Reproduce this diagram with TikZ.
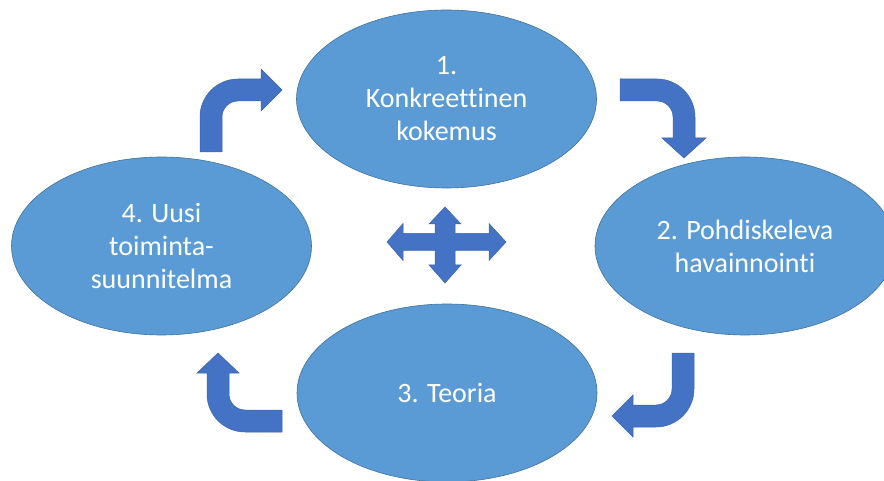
\documentclass[tikz,border=0pt]{standalone}
\usepackage{fontspec}
\setmainfont{Carlito}[Ligatures={NoCommon}]
\usetikzlibrary{shapes.geometric}
\definecolor{ellfill}{HTML}{5B9BD5}
\definecolor{elldraw}{HTML}{41719C}
\definecolor{arrfill}{HTML}{4472C4}
\definecolor{arrdraw}{HTML}{3A64B0}
\tikzset{
  phase/.style={ellipse, fill=ellfill, draw=elldraw, line width=0.6pt,
    minimum width=300pt, minimum height=178pt, inner sep=0pt,
    text=white, align=center, font=\fontsize{28}{33}\selectfont},
  blockarrow/.style={fill=arrfill, draw=arrdraw, line width=0.5pt, line join=miter}
}
\begin{document}
\begin{tikzpicture}[x=1pt,y=-1pt]
\useasboundingbox (0,0) rectangle (884,481);
\fill[white] (0,0) rectangle (884,481);
\node[phase] (e1) at (446.5,99) {1.\\Konkreettinen\\kokemus};
\node[phase] (e2) at (745,246) {2. Pohdiskeleva\\havainnointi};
\node[phase] (e3) at (447,393) {3. Teoria};
\node[phase] (e4) at (161.5,246) {4. Uusi\\toiminta-\\suunnitelma};
% arrow 4 -> 1
\draw[blockarrow] (200,152) -- (200,117) .. controls (200,96) and (217,79) .. (238,79)
  -- (261,79) -- (261,69) -- (282,90) -- (261,111) -- (261,101) -- (238,101)
  .. controls (229.2,101) and (222,108.2) .. (222,117) -- (222,152) -- cycle;
% arrow 1 -> 2
\draw[blockarrow] (620,79) -- (657,79) .. controls (678,79) and (695,96) .. (695,117)
  -- (695,138) -- (706,138) -- (684,158) -- (662,138) -- (673,138) -- (673,117)
  .. controls (673,108.2) and (665.8,101) .. (657,101) -- (620,101) -- cycle;
% arrow 2 -> 3
\draw[blockarrow] (672,353) -- (694,353) -- (694,389) .. controls (694,410) and (677,427) .. (656,427)
  -- (633,427) -- (633,437) -- (612,416) -- (633,395) -- (633,405) -- (656,405)
  .. controls (664.8,405) and (672,397.8) .. (672,389) -- cycle;
% arrow 3 -> 4
\draw[blockarrow] (282,410) -- (282,432) -- (245,432) .. controls (224,432) and (207,415) .. (207,394)
  -- (207,373) -- (197,373) -- (218,353) -- (239,373) -- (229,373) -- (229,394)
  .. controls (229,402.8) and (236.2,410) .. (245,410) -- cycle;
% quad arrow
\draw[blockarrow] (445,207) -- (461,224) -- (455,224) -- (455,233.5) -- (489,233.5) -- (489,223.5)
  -- (506,242) -- (489,260.5) -- (489,250.5) -- (455,250.5) -- (455,265) -- (461,265)
  -- (445,283) -- (429,265) -- (435,265) -- (435,250.5) -- (403,250.5) -- (403,260.5)
  -- (387,242) -- (403,223.5) -- (403,233.5) -- (435,233.5) -- (435,224) -- (429,224) -- cycle;
\end{tikzpicture}
\end{document}
